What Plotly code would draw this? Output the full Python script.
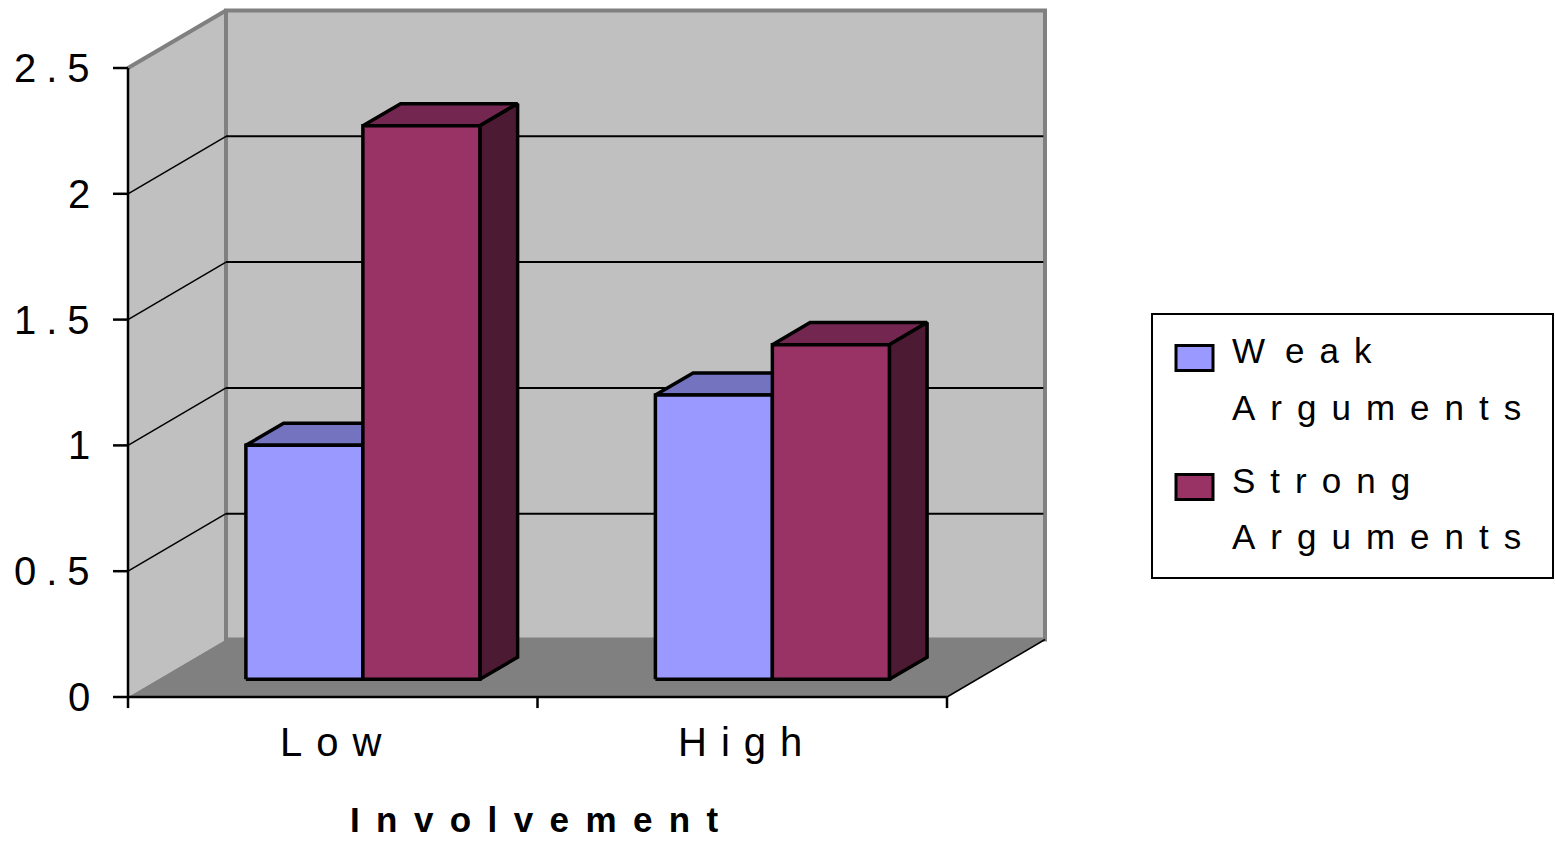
import plotly.graph_objects as go

# ---------------- data ----------------
categories = ["Low", "High"]
weak_values = [0.93, 1.13]
strong_values = [2.2, 1.33]
series_names = ["Weak Arguments", "Strong Arguments"]
y_ticks = [0, 0.5, 1, 1.5, 2, 2.5]
y_tick_labels = ["0", "0.5", "1", "1.5", "2", "2.5"]
x_title = "Involvement"

# ---------------- geometry / style ----------------
W, H = 1556, 843
X_RANGE = [-0.8126, 2.9872]
Y_RANGE = [-0.5803, 2.7703]
DX, DY = 0.2393, 0.2285          # depth of the 3-D box (data units)
F0, BAR_DEPTH = 0.3075, 0.385    # bar front position / depth as fraction of box depth
BAR_W = 2 / 7                    # bar width (gap width 150 %)
FONT = "Liberation Sans, Arial, sans-serif"

WEAK_COLS = dict(front="#9999FF", top="#7373BF", side="#4D4D80")
STRONG_COLS = dict(front="#993366", top="#732650", side="#4D1A33")
WALL = "#C0C0C0"
FLOOR = "#808080"
BORDER = "#808080"

XL, XR = -0.5, len(categories) - 0.5
YMAX = max(y_ticks)


def path(pts):
    return "M " + " L ".join(f"{x},{y}" for x, y in pts) + " Z"


def spaced(t, sp):
    return f'<span style="letter-spacing:{sp}px">{t}</span>'


shapes = []
# side wall
shapes.append(dict(type="path", xref="x", yref="y", layer="below", line=dict(width=0),
                   fillcolor=WALL,
                   path=path([(XL, 0), (XL, YMAX), (XL + DX, YMAX + DY), (XL + DX, DY)])))
# back wall
shapes.append(dict(type="rect", xref="x", yref="y", layer="below",
                   x0=XL + DX, x1=XR + DX, y0=DY, y1=YMAX + DY,
                   fillcolor=WALL, line=dict(color=BORDER, width=4)))
# gridlines
for t in y_ticks[1:-1]:
    shapes.append(dict(type="line", xref="x", yref="y", layer="below",
                       x0=XL, y0=t, x1=XL + DX, y1=t + DY, line=dict(color="black", width=1.5)))
    shapes.append(dict(type="line", xref="x", yref="y", layer="below",
                       x0=XL + DX, y0=t + DY, x1=XR + DX - 0.004, y1=t + DY,
                       line=dict(color="black", width=2)))
# side wall top edge
shapes.append(dict(type="line", xref="x", yref="y", layer="below",
                   x0=XL, y0=YMAX, x1=XL + DX, y1=YMAX + DY, line=dict(color=BORDER, width=4)))
# floor
shapes.append(dict(type="path", xref="x", yref="y", layer="below", line=dict(width=0),
                   fillcolor=FLOOR,
                   path=path([(XL, 0), (XL + DX, DY), (XR + DX, DY), (XR, 0)])))
shapes.append(dict(type="line", xref="x", yref="y", layer="below",
                   x0=XR, y0=0, x1=XR + DX, y1=DY, line=dict(color="black", width=1.5)))
# axes
TICK_X = 0.0366
TICK_Y = 0.044
shapes.append(dict(type="line", xref="x", yref="y", layer="below",
                   x0=XL, y0=0, x1=XL, y1=YMAX, line=dict(color="black", width=2.5)))
shapes.append(dict(type="line", xref="x", yref="y", layer="below",
                   x0=XL, y0=0, x1=XR, y1=0, line=dict(color="black", width=2.5)))
for t in y_ticks:
    shapes.append(dict(type="line", xref="x", yref="y", layer="below",
                       x0=XL - TICK_X, y0=t, x1=XL, y1=t, line=dict(color="black", width=2.5)))
for k in range(len(categories) + 1):
    shapes.append(dict(type="line", xref="x", yref="y", layer="below",
                       x0=XL + k, y0=0, x1=XL + k, y1=-TICK_Y, line=dict(color="black", width=2.5)))

fig = go.Figure()

# ---------------- 3-D bars ----------------
sx, sy = DX * F0, DY * F0
ddx, ddy = DX * BAR_DEPTH, DY * BAR_DEPTH
for ci, cat in enumerate(categories):
    for si, (vals, cols) in enumerate(zip([weak_values, strong_values], [WEAK_COLS, STRONG_COLS])):
        v = vals[ci]
        xl = ci - BAR_W + si * BAR_W + sx
        xr = xl + BAR_W
        yb = sy
        yt = v + sy
        faces = [
            ([xl, xl + ddx, xr + ddx, xr, xl], [yt, yt + ddy, yt + ddy, yt, yt], cols["top"]),
            ([xr, xr + ddx, xr + ddx, xr, xr], [yb, yb + ddy, yt + ddy, yt, yb], cols["side"]),
            ([xl, xr, xr, xl, xl], [yb, yb, yt, yt, yb], cols["front"]),
        ]
        for fx, fy, col in faces:
            fig.add_trace(go.Scatter(x=fx, y=fy, fill="toself", fillcolor=col, mode="lines",
                                     line=dict(color="black", width=3.5), hoverinfo="skip",
                                     showlegend=False, name=series_names[si]))

annotations = []
# y tick labels
for t, lab in zip(y_ticks, y_tick_labels):
    annotations.append(dict(xref="x", yref="y", x=XL, y=t, xanchor="right", yanchor="middle",
                            xshift=-25.6, showarrow=False,
                            text=spaced(lab, 10), font=dict(family=FONT, size=40, color="black")))
# category labels
for ci, cat in enumerate(categories):
    annotations.append(dict(xref="x", yref="y", x=ci, y=0, xanchor="center", yanchor="middle",
                            xshift=5, yshift=-44.5, showarrow=False,
                            text=spaced(cat, 14), font=dict(family=FONT, size=40, color="black")))
# axis title
annotations.append(dict(xref="paper", yref="paper", x=542 / W, y=1 - 819 / H,
                        xanchor="center", yanchor="middle", showarrow=False,
                        text="<b>" + spaced(x_title, 16.4) + "</b>",
                        font=dict(family=FONT, size=35, color="black")))

# ---------------- legend (manual) ----------------
shapes.append(dict(type="rect", xref="paper", yref="paper",
                   x0=1152 / W, x1=1553 / W, y0=1 - 578 / H, y1=1 - 314 / H,
                   fillcolor="white", line=dict(color="black", width=2)))
legend_rows = [(358, WEAK_COLS["front"]), (487, STRONG_COLS["front"])]
for (cy, col) in legend_rows:
    shapes.append(dict(type="rect", xref="paper", yref="paper",
                       x0=1176 / W, x1=1213 / W, y0=1 - (cy + 12.5) / H, y1=1 - (cy - 12.5) / H,
                       fillcolor=col, line=dict(color="black", width=3)))
legend_lines = [
    ('<span style="letter-spacing:20px">W</span>' + spaced("eak", 15), 350.5),
    (spaced("Arguments", 15), 407.5),
    (spaced("Strong", 15), 480.5),
    (spaced("Arguments", 15), 536),
]
for txt, cy in legend_lines:
    annotations.append(dict(xref="paper", yref="paper", x=1230 / W, y=1 - cy / H,
                            xanchor="left", yanchor="middle", showarrow=False, text=txt,
                            font=dict(family=FONT, size=35, color="black")))

fig.update_layout(
    width=W, height=H,
    margin=dict(l=0, r=0, t=0, b=0),
    paper_bgcolor="white", plot_bgcolor="white",
    xaxis=dict(range=X_RANGE, visible=False, fixedrange=True),
    yaxis=dict(range=Y_RANGE, visible=False, fixedrange=True),
    shapes=shapes, annotations=annotations,
    showlegend=False,
)

fig.write_html("out.html")
